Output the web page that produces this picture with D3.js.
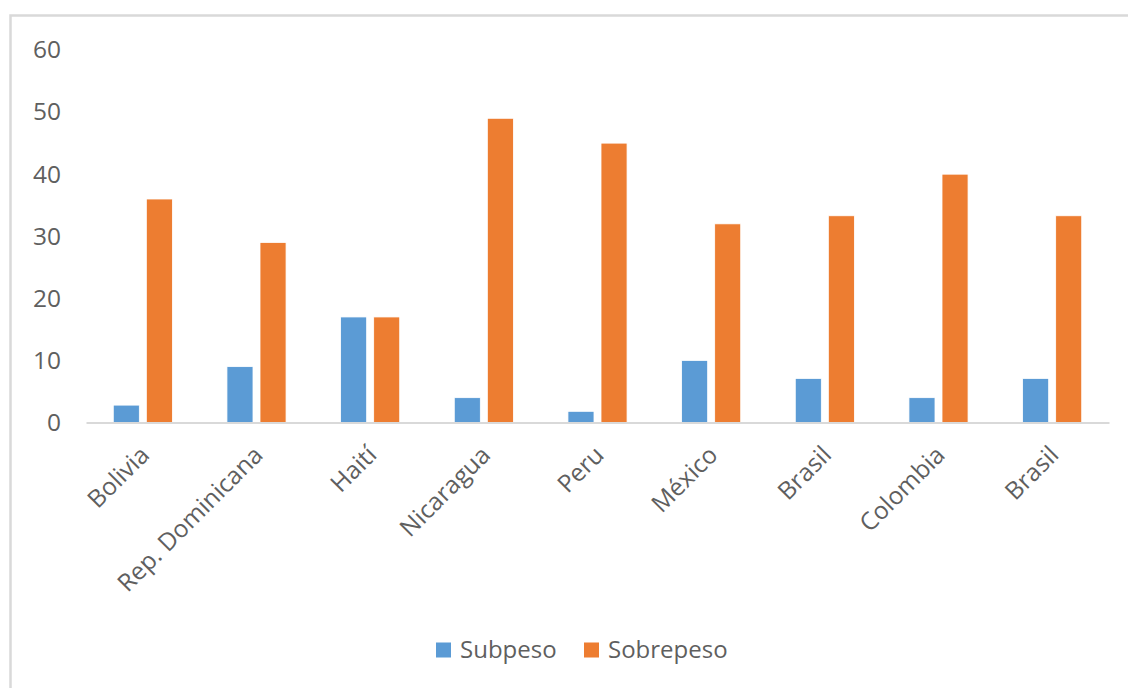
<!DOCTYPE html>
<html>
<head>
<meta charset="utf-8">
<script src="https://cdn.jsdelivr.net/npm/d3@7"></script>
<style>
  html, body { margin: 0; padding: 0; background: #fff; }
  svg { display: block; }
  text { font-family: "Open Sans", "Noto Sans", sans-serif; fill: #5f5f5f; }
</style>
</head>
<body>
<svg id="chart" width="1128" height="688"></svg>
<script>
// Country categories (Brasil appears twice in the source table)
const countries = ["Bolivia", "Rep. Dominicana", "Haití", "Nicaragua", "Peru", "México", "Brasil", "Colombia", "Brasil"];
// Percentages per country
const subpeso    = [2.8, 9, 17, 4, 1.8, 10, 7.1, 4, 7.1];
const sobrepeso  = [36, 29, 17, 49, 45, 32, 33.3, 40, 33.3];
const seriesNames = ["Subpeso", "Sobrepeso"];
const seriesColors = ["#5B9BD5", "#ED7D31"];
const yTicks = [0, 10, 20, 30, 40, 50, 60];

const rows = countries.map((c, i) => ({ idx: i, name: c, values: [subpeso[i], sobrepeso[i]] }));

const svg = d3.select("#chart");

// Outer chart frame
svg.append("rect")
  .attr("x", 10.5).attr("y", 15.5)
  .attr("width", 1140).attr("height", 700)
  .attr("fill", "#fff")
  .attr("stroke", "#d9d9d9").attr("stroke-width", 2.5);

const plot = { left: 86, right: 1109, top: 50, bottom: 422.5 };

const x0 = d3.scaleBand()
  .domain(rows.map(d => d.idx))
  .range([plot.left, plot.right])
  .paddingInner(0.48)
  .paddingOuter(0.24);

const x1 = d3.scaleBand()
  .domain(d3.range(seriesNames.length))
  .range([0, x0.bandwidth()])
  .paddingInner(0.212);

const y = d3.scaleLinear()
  .domain([0, 60])
  .range([plot.bottom, plot.top]);

// Y axis labels (no axis line, no gridlines)
const yAxis = d3.axisLeft(y).tickValues(yTicks).tickSize(0).tickPadding(0);
const yG = svg.append("g")
  .attr("transform", `translate(${plot.left - 25},0)`)
  .call(yAxis);
yG.select(".domain").remove();
yG.selectAll("text")
  .attr("font-size", 24.5)
  .attr("font-family", "'Open Sans', sans-serif")
  .attr("fill", "#5f5f5f");

// Bars
const groups = svg.append("g").selectAll("g")
  .data(rows)
  .join("g")
  .attr("transform", d => `translate(${x0(d.idx)},0)`);

groups.selectAll("rect")
  .data(d => d.values.map((v, s) => ({ v, s })))
  .join("rect")
  .attr("x", d => x1(d.s))
  .attr("width", x1.bandwidth())
  .attr("y", d => y(d.v))
  .attr("height", d => y(0) - y(d.v))
  .attr("fill", d => seriesColors[d.s])
  .attr("stroke", "#fff")
  .attr("stroke-width", 0.8);

// Category axis
const xBand = d3.scaleBand()
  .domain(rows.map(d => d.idx))
  .range([plot.left, plot.right]);
const xAxis = d3.axisBottom(xBand).tickSize(0).tickFormat(i => countries[i]);
const xG = svg.append("g")
  .attr("transform", `translate(0,${plot.bottom})`)
  .call(xAxis);
xG.select(".domain")
  .attr("stroke", "#d9d9d9")
  .attr("stroke-width", 2.2);
xG.selectAll("text")
  .attr("font-size", 24.5)
  .attr("font-family", "'Open Sans', sans-serif")
  .attr("fill", "#5f5f5f")
  .attr("text-anchor", "end")
  .attr("dy", "0")
  .attr("y", 0)
  .attr("transform", "translate(8,34) rotate(-45)");

// Legend
const legend = svg.append("g").attr("transform", "translate(436,650)");
const legendX = [0, 148];
seriesNames.forEach((name, i) => {
  const g = legend.append("g").attr("transform", `translate(${legendX[i]},0)`);
  g.append("rect")
    .attr("x", 0).attr("y", -7.5)
    .attr("width", 15).attr("height", 15)
    .attr("fill", seriesColors[i]);
  g.append("text")
    .attr("x", 24).attr("y", 0)
    .attr("dy", "0.35em")
    .attr("font-size", 24)
    .text(name);
});
</script>
</body>
</html>
